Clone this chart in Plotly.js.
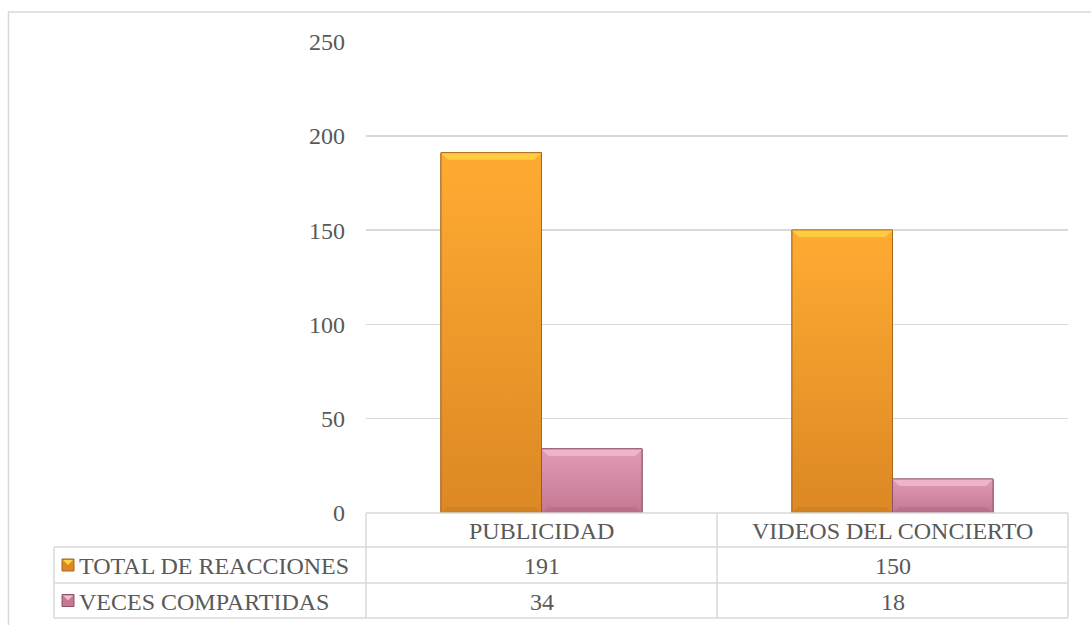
<!DOCTYPE html>
<html>
<head>
<meta charset="utf-8">
<script src="https://cdn.plot.ly/plotly-3.0.1.min.js"></script>
<style>
  html, body { margin: 0; padding: 0; background: #ffffff; }
  #chart { width: 1091px; height: 625px; }
</style>
</head>
<body>
<div id="chart"></div>
<script>
// Categories and series
const categories = ["PUBLICIDAD", "VIDEOS DEL CONCIERTO"];
const seriesNames = ["TOTAL DE REACCIONES", "VECES COMPARTIDAS"];
const totalReacciones = [191, 150];
const vecesCompartidas = [34, 18];
const yTicks = [0, 50, 100, 150, 200, 250];

const W = 1091, H = 625;
const px = x => x / W;          // pixel -> paper x
const py = y => 1 - y / H;      // pixel -> paper y

const FONT = "Liberation Serif";
const FSIZE = 24;
const TXT = "#595959";
const GRID = "#D9D9D9";

// Plot box in pixels
const plotL = 366, plotR = 1068, plotT = 41.5, plotB = 513;
// Data table rows (pixels)
const tblLeft = 54, colMid = 717;
const rowHeader = [513, 547], row1 = [547, 583], row2 = [583, 618];

const BARGAP = 0.427;
const barW = (1 - BARGAP) / 2;

const styles = [
  { base: "#F2A02E", top: "#FFAB32", bottom: "#DC8824", edge: "#A8681C", light: "#FFD545" },
  { base: "#D185A0", top: "#E29AB6", bottom: "#C47892", edge: "#8C5266", light: "#F3BCD0" }
];
const seriesValues = [totalReacciones, vecesCompartidas];
const xIdx = categories.map((_, i) => i);

// Bars (numeric category positions 0..n-1; labels live in the data table)
const traces = seriesValues.map((vals, s) => ({
  type: "bar", name: seriesNames[s], x: xIdx, y: vals,
  text: categories, hovertemplate: "%{text}: %{y}<extra>" + seriesNames[s] + "</extra>",
  textposition: "none",
  marker: { color: styles[s].base, line: { color: styles[s].edge, width: 1 } }
}));

// Vertical shading on each bar body
seriesValues.forEach((vals, s) => {
  vals.forEach((v, i) => {
    const x0 = i + (s - 1) * barW, x1 = x0 + barW;
    traces.push({
      type: "scatter", mode: "lines", showlegend: false, hoverinfo: "skip",
      x: [x0, x0, x1, x1, x0], y: [0, v, v, 0, 0],
      fill: "toself",
      fillgradient: { type: "vertical", start: 0, stop: v,
        colorscale: [[0, styles[s].bottom], [1, styles[s].top]] },
      line: { color: styles[s].edge, width: 1 }
    });
  });
});

const shapes = [];
const annotations = [];
const line = (x0, y0, x1, y1, w) => shapes.push({
  type: "line", xref: "paper", yref: "paper",
  x0: px(x0), y0: py(y0), x1: px(x1), y1: py(y1),
  line: { color: GRID, width: w || 1.5 }
});

// Bevel facets on every bar (pixel offsets relative to the bar top / base)
seriesValues.forEach((vals, s) => {
  vals.forEach((v, i) => {
    const x0 = i + (s - 1) * barW, x1 = x0 + barW;
    const inset = barW * 0.07;
    // light top facet
    shapes.push({
      type: "path", xref: "x", yref: "y", ysizemode: "pixel", yanchor: v,
      path: `M ${x0},-0.5 L ${x1},-0.5 L ${x1 - inset},-7 L ${x0 + inset},-7 Z`,
      fillcolor: styles[s].light, opacity: 0.8, line: { width: 0 }, layer: "above"
    });
    // darker bottom facet
    shapes.push({
      type: "path", xref: "x", yref: "y", ysizemode: "pixel", yanchor: 0,
      path: `M ${x0},0.5 L ${x1},0.5 L ${x1 - inset},6 L ${x0 + inset},6 Z`,
      fillcolor: styles[s].edge, opacity: 0.22, line: { width: 0 }, layer: "above"
    });
  });
});

// Outer frame of the chart area
shapes.push({
  type: "rect", xref: "paper", yref: "paper",
  x0: px(8.5), y0: py(640), x1: px(1100), y1: py(12),
  line: { color: GRID, width: 1.5 }, fillcolor: "rgba(0,0,0,0)", layer: "below"
});

// Data table grid
line(plotL, rowHeader[0], plotR, rowHeader[0]);
line(tblLeft, row1[0], plotR, row1[0]);
line(tblLeft, row2[0], plotR, row2[0]);
line(tblLeft, row2[1], plotR, row2[1]);
line(tblLeft, row1[0], tblLeft, row2[1]);
line(plotL, rowHeader[0], plotL, row2[1]);
line(colMid, rowHeader[0], colMid, row2[1]);
line(plotR, rowHeader[0], plotR, row2[1]);

const cellText = (text, xpix, ypix, anchor) => annotations.push({
  xref: "paper", yref: "paper", x: px(xpix), y: py(ypix),
  text: text, showarrow: false, xanchor: anchor || "center", yanchor: "middle",
  font: { family: FONT, size: FSIZE, color: TXT }
});

// Header row: category names
const colCenters = [(plotL + colMid) / 2, (colMid + plotR) / 2];
categories.forEach((c, i) => cellText(c, colCenters[i], (rowHeader[0] + rowHeader[1]) / 2 + 1));

// Value rows with legend keys
const rows = [row1, row2];
seriesNames.forEach((name, r) => {
  const yc = (rows[r][0] + rows[r][1]) / 2;
  shapes.push({
    type: "rect", xref: "paper", yref: "paper",
    x0: px(62), x1: px(74), y0: py(yc - 6), y1: py(yc + 6),
    fillcolor: styles[r].bottom, line: { color: styles[r].edge, width: 1 }
  });
  shapes.push({
    type: "path", xref: "paper", yref: "paper",
    path: `M ${px(63)},${py(yc - 5)} L ${px(73)},${py(yc - 5)} L ${px(68)},${py(yc)} Z`,
    fillcolor: styles[r].light, line: { width: 0 }
  });
  cellText(name, 77, yc + 1, "left");
  seriesValues[r].forEach((v, i) => cellText(String(v), colCenters[i], yc + 1));
});

const layout = {
  width: W, height: H,
  margin: { l: 0, r: 0, t: 0, b: 0 },
  paper_bgcolor: "#ffffff", plot_bgcolor: "rgba(0,0,0,0)",
  showlegend: false,
  barmode: "group", bargap: BARGAP, bargroupgap: 0,
  xaxis: {
    domain: [px(plotL), px(plotR)], range: [-0.5, categories.length - 0.5],
    showticklabels: false, showgrid: false, zeroline: false, showline: false,
    ticks: ""
  },
  yaxis: {
    domain: [py(plotB), py(plotT)],
    range: [0, 250], tickvals: yTicks, ticktext: yTicks.map(String),
    showgrid: true, gridcolor: GRID, gridwidth: 1.5,
    zeroline: false, showline: false, ticks: "",
    ticklabelstandoff: 20,
    tickfont: { family: FONT, size: FSIZE, color: TXT }
  },
  shapes: shapes,
  annotations: annotations
};

Plotly.newPlot("chart", traces, layout, { displayModeBar: false, staticPlot: true });
</script>
</body>
</html>
